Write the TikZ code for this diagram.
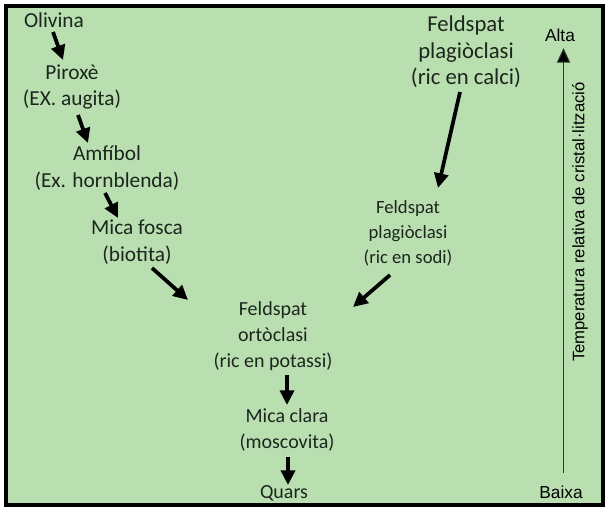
\documentclass[tikz,border=0pt]{standalone}
\usepackage{fontspec}
\setmainfont{Carlito}
\newfontfamily\arialf{Liberation Sans}
\usetikzlibrary{arrows.meta}
\definecolor{bg}{RGB}{185,223,177}
\definecolor{txt}{RGB}{28,38,28}
\definecolor{axisc}{RGB}{45,60,45}
\begin{document}
\begin{tikzpicture}[x=0.75pt,y=-0.75pt,
  lbl/.style={align=center, text=txt, inner sep=0pt},
  big/.style={lbl, font=\fontsize{16}{20}\selectfont},
  bigr/.style={lbl, font=\fontsize{17}{20}\selectfont},
  mid/.style={lbl, font=\fontsize{15}{19.5}\selectfont},
  small/.style={lbl, font=\fontsize{14}{18.75}\selectfont},
  ax/.style={inner sep=0pt, text=black, font=\arialf\fontsize{13}{15}\selectfont},
  arr/.style={line width=2.8pt, -{Triangle[length=11pt,width=10.5pt]}},
  axarr/.style={line width=0.8pt, draw=axisc, -{Triangle[length=11pt,width=10pt,fill=black]}}
]
\useasboundingbox (0,0) rectangle (605,507);
\fill[white] (0,0) rectangle (605,507);
\draw[line width=3pt, fill=bg] (5.5,6) rectangle (603,504.5);

\node[big] (olivina) at (54,20) {Olivina};
\node[big] (pirox) at (72,87) {Piroxè\\(EX. augita)};
\node[big] (amf) at (107,168) {Amfíbol\\(Ex. hornblenda)};
\node[big] (mfosca) at (137,242) {Mica fosca\\(biotita)};
\node[mid] (ortho) at (273,336) {Feldspat\\ortòclasi\\(ric en potassi)};
\node[mid] (mclara) at (287,430) {Mica clara\\(moscovita)};
\node[mid] (quars) at (284,493) {Quars};
\node[bigr] (plagca) at (466,52) {Feldspat\\plagiòclasi\\(ric en calci)};
\node[small] (plagna) at (408,233) {Feldspat\\plagiòclasi\\(ric en sodi)};

\draw[arr] ([shift={(-1,12)}]olivina.center) -- ([shift={(-9,-27)}]pirox.center);
\draw[arr] ([shift={(6,28)}]pirox.center) -- ([shift={(-19,-25)}]amf.center);
\draw[arr] ([shift={(-2,25)}]amf.center) -- ([shift={(-19,-24)}]mfosca.center);
\draw[arr] ([shift={(15,26)}]mfosca.center) -- ([shift={(-85,-36)}]ortho.center);
\draw[arr] ([shift={(-6,40)}]plagca.center) -- ([shift={(30,-45)}]plagna.center);
\draw[arr] ([shift={(-18,42)}]plagna.center) -- ([shift={(80,-29)}]ortho.center);
\draw[arr] ([shift={(14,39)}]ortho.center) -- ([shift={(0,-25)}]mclara.center);
\draw[arr] ([shift={(1,27)}]mclara.center) -- ([shift={(4,-8)}]quars.center);

\node[ax] (alta) at (560,35) {Alta};
\node[ax] (baixa) at (561,492) {Baixa};
\coordinate (axbot) at (563.5,473);
\coordinate (axtop) at (563.5,48);
\draw[axarr] (axbot) -- (axtop);
\node[ax, rotate=90, font=\arialf\fontsize{12.5}{14}\selectfont] (temp) at (580,222) {Temperatura relativa de cristal·lització};
\end{tikzpicture}
\end{document}
